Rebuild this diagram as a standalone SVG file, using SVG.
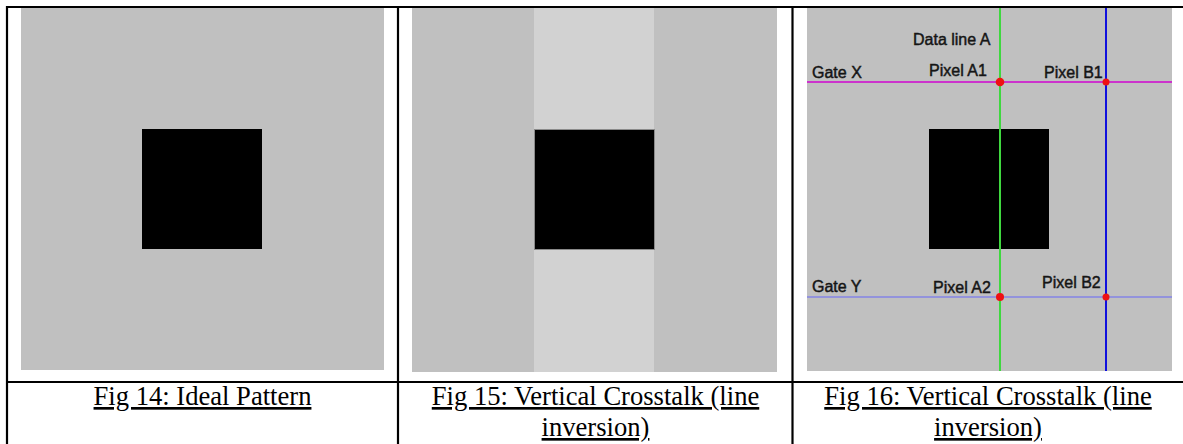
<svg xmlns="http://www.w3.org/2000/svg" width="1183" height="444" viewBox="0 0 1183 444">
<style>
.bg{fill:#c0c0c0}
.sq{fill:#000}
.sq2{fill:#000;stroke:#8a8a8a;stroke-width:1}
.rule{stroke:#000;stroke-width:2.2;fill:none}
.cap{font-family:"Liberation Serif","Times New Roman",serif;font-size:26.6px;fill:#000;text-anchor:middle;text-decoration:underline}
.lbl{font-family:"Liberation Sans",Arial,sans-serif;font-size:16px;fill:#151515;stroke:#151515;stroke-width:0.45}
.dot{fill:#ee1111}
</style>
<g id="table">
<line class="rule" x1="7" y1="7" x2="1183" y2="7"/>
<line class="rule" x1="7" y1="382" x2="1183" y2="382"/>
<line class="rule" x1="7" y1="6" x2="7" y2="444"/>
<line class="rule" x1="398" y1="6" x2="398" y2="444"/>
<line class="rule" x1="792.5" y1="6" x2="792.5" y2="444"/>
</g>
<g id="fig14">
<rect class="bg" x="21" y="8" width="363" height="362"/>
<rect class="sq" x="142" y="129" width="120" height="120"/>
<text class="cap" x="202.5" y="405">Fig 14: Ideal Pattern</text>
</g>
<g id="fig15">
<rect class="bg" x="412" y="8" width="365" height="364"/>
<rect x="534" y="8" width="120" height="364" fill="#d2d2d2"/>
<rect class="sq2" x="534.5" y="129.5" width="120" height="120"/>
<text class="cap" x="595.5" y="405">Fig 15: Vertical Crosstalk (line</text>
<text class="cap" x="595.5" y="436">inversion)</text>
</g>
<g id="fig16">
<rect class="bg" x="807" y="8" width="365" height="363"/>
<rect class="sq" x="929" y="129" width="120" height="120"/>
<text class="cap" x="988" y="405">Fig 16: Vertical Crosstalk (line</text>
<text class="cap" x="988" y="436">inversion)</text>
</g>
<g id="connectors">
<line x1="807" y1="82" x2="1172" y2="82" stroke="#cc33cc" stroke-width="2"/>
<line x1="807" y1="297" x2="1172" y2="297" stroke="#8484e6" stroke-width="1.5"/>
<line x1="1000" y1="8" x2="1000" y2="371" stroke="#3fd83f" stroke-width="2"/>
<line x1="1106" y1="8" x2="1106" y2="371" stroke="#1010dd" stroke-width="2"/>
</g>
<g id="pixelA1"><circle class="dot" cx="1000" cy="82" r="4.3"/><text class="lbl" x="929" y="76">Pixel A1</text></g>
<g id="pixelB1"><circle class="dot" cx="1106" cy="82" r="3.5"/><text class="lbl" x="1044" y="78">Pixel B1</text></g>
<g id="pixelA2"><circle class="dot" cx="1000" cy="297" r="4"/><text class="lbl" x="933" y="293">Pixel A2</text></g>
<g id="pixelB2"><circle class="dot" cx="1106" cy="297" r="3.5"/><text class="lbl" x="1042" y="288">Pixel B2</text></g>
<g id="gateX"><text class="lbl" x="812" y="78">Gate X</text></g>
<g id="gateY"><text class="lbl" x="812" y="292">Gate Y</text></g>
<g id="dataA"><text class="lbl" x="913" y="45">Data line A</text></g>
</svg>
